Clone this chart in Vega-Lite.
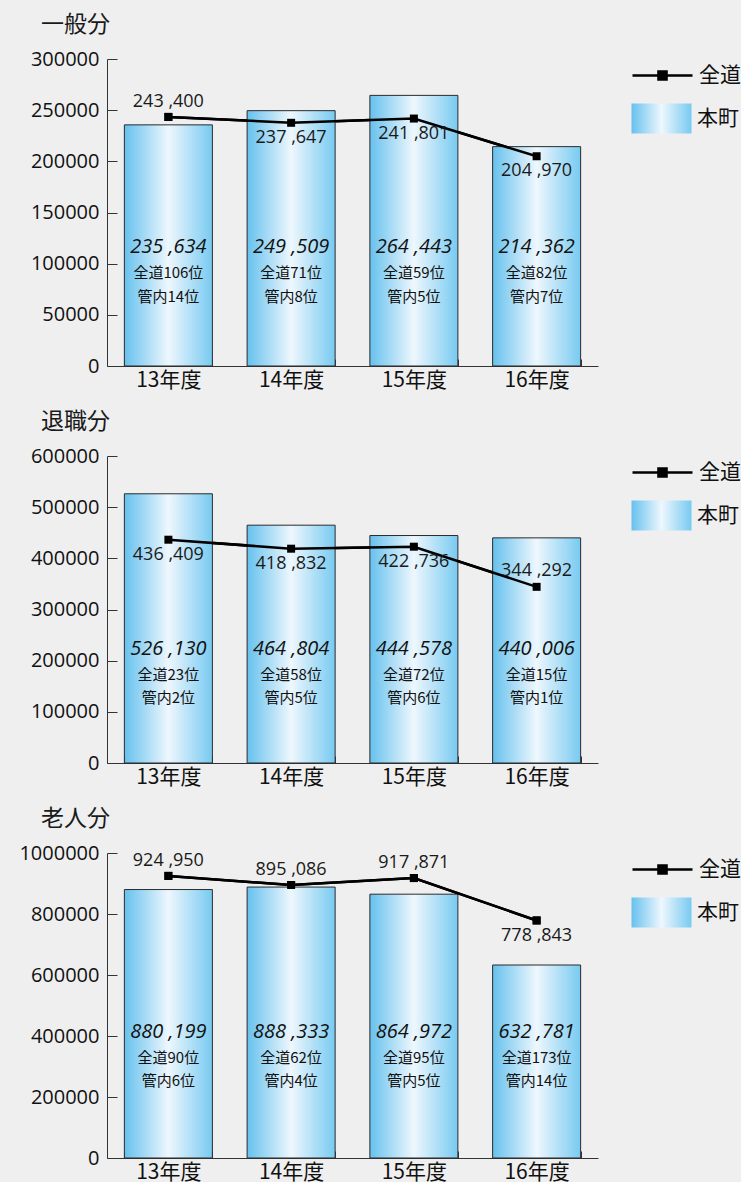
{
  "$schema": "https://vega.github.io/schema/vega-lite/v6.json",
  "background": "#efefef",
  "padding": {"left": 18, "top": 14, "right": 0, "bottom": 0},
  "bounds": "flush",
  "spacing": 90,
  "datasets": {
    "general": [
      {"year": "13年度", "town": 235634, "townLabel": "235 ,634", "whole": 243400, "wholeLabel": "243 ,400", "rankAll": "全道106位", "rankLocal": "管内14位"},
      {"year": "14年度", "town": 249509, "townLabel": "249 ,509", "whole": 237647, "wholeLabel": "237 ,647", "rankAll": "全道71位", "rankLocal": "管内8位"},
      {"year": "15年度", "town": 264443, "townLabel": "264 ,443", "whole": 241801, "wholeLabel": "241 ,801", "rankAll": "全道59位", "rankLocal": "管内5位"},
      {"year": "16年度", "town": 214362, "townLabel": "214 ,362", "whole": 204970, "wholeLabel": "204 ,970", "rankAll": "全道82位", "rankLocal": "管内7位"}
    ],
    "retired": [
      {"year": "13年度", "town": 526130, "townLabel": "526 ,130", "whole": 436409, "wholeLabel": "436 ,409", "rankAll": "全道23位", "rankLocal": "管内2位"},
      {"year": "14年度", "town": 464804, "townLabel": "464 ,804", "whole": 418832, "wholeLabel": "418 ,832", "rankAll": "全道58位", "rankLocal": "管内5位"},
      {"year": "15年度", "town": 444578, "townLabel": "444 ,578", "whole": 422736, "wholeLabel": "422 ,736", "rankAll": "全道72位", "rankLocal": "管内6位"},
      {"year": "16年度", "town": 440006, "townLabel": "440 ,006", "whole": 344292, "wholeLabel": "344 ,292", "rankAll": "全道15位", "rankLocal": "管内1位"}
    ],
    "elderly": [
      {"year": "13年度", "town": 880199, "townLabel": "880 ,199", "whole": 924950, "wholeLabel": "924 ,950", "rankAll": "全道90位", "rankLocal": "管内6位"},
      {"year": "14年度", "town": 888333, "townLabel": "888 ,333", "whole": 895086, "wholeLabel": "895 ,086", "rankAll": "全道62位", "rankLocal": "管内4位"},
      {"year": "15年度", "town": 864972, "townLabel": "864 ,972", "whole": 917871, "wholeLabel": "917 ,871", "rankAll": "全道95位", "rankLocal": "管内5位"},
      {"year": "16年度", "town": 632781, "townLabel": "632 ,781", "whole": 778843, "wholeLabel": "778 ,843", "rankAll": "全道173位", "rankLocal": "管内14位"}
    ]
  },
  "resolve": {"scale": {"color": "independent", "opacity": "independent", "x": "independent", "y": "independent"}, "legend": {"color": "independent", "opacity": "independent"}},
  "vconcat": [
    {
      "title": {"text": "一般分"},
      "width": 491, "height": 307,
      "data": {"name": "general"},
      "encoding": {"x": {"field": "year", "type": "nominal", "sort": null, "scale": {"paddingInner": 0.283, "paddingOuter": 0.1415}, "axis": {"title": null}}},
      "layer": [
        {"mark": {"type": "line", "strokeWidth": 2.5, "point": {"shape": "square", "size": 64, "filled": true}},
         "encoding": {"y": {"field": "whole", "type": "quantitative", "scale": {"domain": [0, 300000], "nice": false}, "axis": {"title": null, "values": [0, 50000, 100000, 150000, 200000, 250000, 300000]}},
           "color": {"datum": "全道", "scale": {"domain": ["全道"], "range": ["black"]},
             "legend": {"title": null, "symbolType": "M-1,0H3M0.73,-0.27H1.27V0.27H0.73Z", "symbolFillColor": "black", "symbolStrokeWidth": 2.5}}}},
        {"mark": {"type": "bar", "color": {"gradient": "linear", "x1": 0, "x2": 1, "y1": 0, "y2": 0, "stops": [{"offset": 0, "color": "#66c1ee"}, {"offset": 0.5, "color": "#eef7fd"}, {"offset": 1, "color": "#78caf1"}]}, "stroke": "#2b2b2b", "strokeWidth": 1},
         "encoding": {"y": {"field": "town", "type": "quantitative"},
           "opacity": {"datum": "本町", "scale": {"domain": ["本町"], "range": [1]},
             "legend": {"title": " ", "titleFontSize": 2, "titlePadding": 7, "symbolType": "M-1,-1H3V1H-1Z", "symbolStrokeColor": "#2b2b2b", "symbolStrokeWidth": 1}}}},
        {"mark": {"type": "line", "color": "black", "strokeWidth": 2.5, "point": {"shape": "square", "size": 64, "filled": true, "color": "black"}},
         "encoding": {"y": {"field": "whole", "type": "quantitative"}}},
        {"transform": [{"filter": "datum.year === '13年度'"}], "mark": {"type": "text", "dy": -15, "fontSize": 18, "font": "Open Sans", "color": "#1a1a1a"},
         "encoding": {"y": {"field": "whole", "type": "quantitative"}, "text": {"field": "wholeLabel"}}},
        {"transform": [{"filter": "datum.year !== '13年度'"}], "mark": {"type": "text", "dy": 15, "fontSize": 18, "font": "Open Sans", "color": "#1a1a1a"},
         "encoding": {"y": {"field": "whole", "type": "quantitative"}, "text": {"field": "wholeLabel"}}},
        {"mark": {"type": "text", "fontSize": 20, "fontStyle": "italic", "font": "Open Sans", "color": "#111"},
         "encoding": {"y": {"datum": 116000}, "text": {"field": "townLabel"}}},
        {"mark": {"type": "text", "fontSize": 15, "font": "Noto Sans CJK JP", "color": "#111"},
         "encoding": {"y": {"datum": 91000}, "text": {"field": "rankAll"}}},
        {"mark": {"type": "text", "fontSize": 15, "font": "Noto Sans CJK JP", "color": "#111"},
         "encoding": {"y": {"datum": 67400}, "text": {"field": "rankLocal"}}}
      ]
    },
    {
      "title": {"text": "退職分"},
      "width": 491, "height": 307,
      "data": {"name": "retired"},
      "encoding": {"x": {"field": "year", "type": "nominal", "sort": null, "scale": {"paddingInner": 0.283, "paddingOuter": 0.1415}, "axis": {"title": null}}},
      "layer": [
        {"mark": {"type": "line", "strokeWidth": 2.5, "point": {"shape": "square", "size": 64, "filled": true}},
         "encoding": {"y": {"field": "whole", "type": "quantitative", "scale": {"domain": [0, 600000], "nice": false}, "axis": {"title": null, "values": [0, 100000, 200000, 300000, 400000, 500000, 600000]}},
           "color": {"datum": "全道", "scale": {"domain": ["全道"], "range": ["black"]},
             "legend": {"title": null, "symbolType": "M-1,0H3M0.73,-0.27H1.27V0.27H0.73Z", "symbolFillColor": "black", "symbolStrokeWidth": 2.5}}}},
        {"mark": {"type": "bar", "color": {"gradient": "linear", "x1": 0, "x2": 1, "y1": 0, "y2": 0, "stops": [{"offset": 0, "color": "#66c1ee"}, {"offset": 0.5, "color": "#eef7fd"}, {"offset": 1, "color": "#78caf1"}]}, "stroke": "#2b2b2b", "strokeWidth": 1},
         "encoding": {"y": {"field": "town", "type": "quantitative"},
           "opacity": {"datum": "本町", "scale": {"domain": ["本町"], "range": [1]},
             "legend": {"title": " ", "titleFontSize": 2, "titlePadding": 7, "symbolType": "M-1,-1H3V1H-1Z", "symbolStrokeColor": "#2b2b2b", "symbolStrokeWidth": 1}}}},
        {"mark": {"type": "line", "color": "black", "strokeWidth": 2.5, "point": {"shape": "square", "size": 64, "filled": true, "color": "black"}},
         "encoding": {"y": {"field": "whole", "type": "quantitative"}}},
        {"transform": [{"filter": "datum.year === '16年度'"}], "mark": {"type": "text", "dy": -16, "fontSize": 18, "font": "Open Sans", "color": "#1a1a1a"},
         "encoding": {"y": {"field": "whole", "type": "quantitative"}, "text": {"field": "wholeLabel"}}},
        {"transform": [{"filter": "datum.year !== '16年度'"}], "mark": {"type": "text", "dy": 15, "fontSize": 18, "font": "Open Sans", "color": "#1a1a1a"},
         "encoding": {"y": {"field": "whole", "type": "quantitative"}, "text": {"field": "wholeLabel"}}},
        {"mark": {"type": "text", "fontSize": 20, "fontStyle": "italic", "font": "Open Sans", "color": "#111"},
         "encoding": {"y": {"datum": 222800}, "text": {"field": "townLabel"}}},
        {"mark": {"type": "text", "fontSize": 15, "font": "Noto Sans CJK JP", "color": "#111"},
         "encoding": {"y": {"datum": 172000}, "text": {"field": "rankAll"}}},
        {"mark": {"type": "text", "fontSize": 15, "font": "Noto Sans CJK JP", "color": "#111"},
         "encoding": {"y": {"datum": 127000}, "text": {"field": "rankLocal"}}}
      ]
    },
    {
      "title": {"text": "老人分"},
      "width": 491, "height": 305,
      "data": {"name": "elderly"},
      "encoding": {"x": {"field": "year", "type": "nominal", "sort": null, "scale": {"paddingInner": 0.283, "paddingOuter": 0.1415}, "axis": {"title": null}}},
      "layer": [
        {"mark": {"type": "line", "strokeWidth": 2.5, "point": {"shape": "square", "size": 64, "filled": true}},
         "encoding": {"y": {"field": "whole", "type": "quantitative", "scale": {"domain": [0, 1000000], "nice": false}, "axis": {"title": null, "values": [0, 200000, 400000, 600000, 800000, 1000000]}},
           "color": {"datum": "全道", "scale": {"domain": ["全道"], "range": ["black"]},
             "legend": {"title": null, "symbolType": "M-1,0H3M0.73,-0.27H1.27V0.27H0.73Z", "symbolFillColor": "black", "symbolStrokeWidth": 2.5}}}},
        {"mark": {"type": "bar", "color": {"gradient": "linear", "x1": 0, "x2": 1, "y1": 0, "y2": 0, "stops": [{"offset": 0, "color": "#66c1ee"}, {"offset": 0.5, "color": "#eef7fd"}, {"offset": 1, "color": "#78caf1"}]}, "stroke": "#2b2b2b", "strokeWidth": 1},
         "encoding": {"y": {"field": "town", "type": "quantitative"},
           "opacity": {"datum": "本町", "scale": {"domain": ["本町"], "range": [1]},
             "legend": {"title": " ", "titleFontSize": 2, "titlePadding": 7, "symbolType": "M-1,-1H3V1H-1Z", "symbolStrokeColor": "#2b2b2b", "symbolStrokeWidth": 1}}}},
        {"mark": {"type": "line", "color": "black", "strokeWidth": 2.5, "point": {"shape": "square", "size": 64, "filled": true, "color": "black"}},
         "encoding": {"y": {"field": "whole", "type": "quantitative"}}},
        {"transform": [{"filter": "datum.year !== '16年度'"}], "mark": {"type": "text", "dy": -15, "fontSize": 18, "font": "Open Sans", "color": "#1a1a1a"},
         "encoding": {"y": {"field": "whole", "type": "quantitative"}, "text": {"field": "wholeLabel"}}},
        {"transform": [{"filter": "datum.year === '16年度'"}], "mark": {"type": "text", "dy": 16, "fontSize": 18, "font": "Open Sans", "color": "#1a1a1a"},
         "encoding": {"y": {"field": "whole", "type": "quantitative"}, "text": {"field": "wholeLabel"}}},
        {"mark": {"type": "text", "fontSize": 20, "fontStyle": "italic", "font": "Open Sans", "color": "#111"},
         "encoding": {"y": {"datum": 413000}, "text": {"field": "townLabel"}}},
        {"mark": {"type": "text", "fontSize": 15, "font": "Noto Sans CJK JP", "color": "#111"},
         "encoding": {"y": {"datum": 328000}, "text": {"field": "rankAll"}}},
        {"mark": {"type": "text", "fontSize": 15, "font": "Noto Sans CJK JP", "color": "#111"},
         "encoding": {"y": {"datum": 252500}, "text": {"field": "rankLocal"}}}
      ]
    }
  ],
  "config": {
    "view": {"stroke": null},
    "title": {"anchor": "start", "frame": "group", "dx": -66, "fontSize": 23, "font": "Noto Sans CJK JP", "fontWeight": "normal", "color": "#1a1a1a", "offset": 12},
    "axis": {"grid": false, "domainColor": "#333", "tickColor": "#333", "labelColor": "#111", "domainWidth": 1, "tickWidth": 1},
    "axisY": {"tickSize": -10, "labelPadding": 18, "labelFontSize": 20, "labelFont": "Open Sans", "format": "d"},
    "axisX": {"tickSize": -7, "labelPadding": 10, "tickBand": "extent", "labelAngle": 0, "labelFontSize": 21, "labelFont": "Noto Sans CJK JP"},
    "legend": {
      "orient": "right", "offset": 33, "padding": 0,
      "symbolSize": 900, "labelOffset": 35,
      "labelFontSize": 21, "labelFont": "Noto Sans CJK JP", "labelColor": "#111"
    }
  }
}
